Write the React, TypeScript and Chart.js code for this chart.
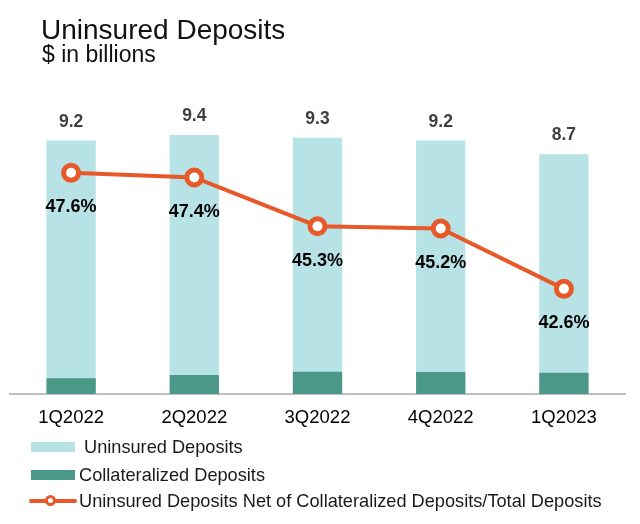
import React, { useEffect, useRef } from "react";
import { Chart, registerables } from "chart.js";

Chart.register(...registerables);

const categories = ["1Q2022", "2Q2022", "3Q2022", "4Q2022", "1Q2023"];
const uninsuredDeposits = [9.2, 9.4, 9.3, 9.2, 8.7];
const collateralizedDeposits = [0.57, 0.69, 0.81, 0.8, 0.77];
const netRatioPct = [47.6, 47.4, 45.3, 45.2, 42.6];
const totalLabels = ["9.2", "9.4", "9.3", "9.2", "8.7"];
const pctLabels = ["47.6%", "47.4%", "45.3%", "45.2%", "42.6%"];

const LIGHT = "#B7E3E6";
const DARK = "#4C9888";
const ORANGE = "#E8592A";
const FONT = "'Liberation Sans', Arial, Helvetica, sans-serif";

const labelsPlugin = {
  id: "valueLabels",
  afterDatasetsDraw(chart: any) {
    const ctx = chart.ctx;
    const barMeta = chart.getDatasetMeta(2);
    const lineMeta = chart.getDatasetMeta(0);
    ctx.save();
    ctx.textAlign = "center";
    ctx.font = `bold 17.5px ${FONT}`;
    ctx.fillStyle = "#3F3F3F";
    ctx.textBaseline = "alphabetic";
    barMeta.data.forEach((el: any, i: number) => {
      ctx.fillText(totalLabels[i], el.x, el.y - 14);
    });
    ctx.font = `bold 18px ${FONT}`;
    ctx.fillStyle = "#000000";
    lineMeta.data.forEach((el: any, i: number) => {
      ctx.fillText(pctLabels[i], el.x, el.y + 39.5);
    });
    ctx.restore();
  },
};

export default function App() {
  const ref = useRef<HTMLCanvasElement | null>(null);

  useEffect(() => {
    if (!ref.current) return;
    const chart = new Chart(ref.current, {
      type: "bar",
      data: {
        labels: categories,
        datasets: [
          {
            type: "line",
            label: "Uninsured Deposits Net of Collateralized Deposits/Total Deposits",
            data: netRatioPct,
            yAxisID: "y2",
            borderColor: ORANGE,
            borderWidth: 4,
            pointRadius: 7.5,
            pointBorderWidth: 5,
            pointBackgroundColor: "#FFFFFF",
            pointBorderColor: ORANGE,
            tension: 0,
            order: 0,
          } as any,
          {
            label: "Collateralized Deposits",
            data: collateralizedDeposits,
            backgroundColor: DARK,
            yAxisID: "y",
            grouped: false,
            barPercentage: 0.4,
            categoryPercentage: 1,
            order: 1,
          },
          {
            label: "Uninsured Deposits",
            data: uninsuredDeposits,
            backgroundColor: LIGHT,
            yAxisID: "y",
            grouped: false,
            barPercentage: 0.4,
            categoryPercentage: 1,
            order: 2,
          },
        ],
      },
      options: {
        animation: false,
        responsive: false,
        maintainAspectRatio: false,
        layout: { autoPadding: false, padding: { left: 9.5, right: 14.5, top: 80, bottom: 0 } },
        plugins: {
          legend: { display: false },
          tooltip: { enabled: false },
          title: { display: false },
        },
        scales: {
          x: {
            grid: { display: false, drawTicks: false },
            border: { display: true, color: "#BFBFBF", width: 2 },
            ticks: {
              color: "#000000",
              font: { family: FONT, size: 18.5 },
              padding: 13,
              maxRotation: 0,
            },
            afterFit: (scale: any) => {
              scale.height = 130;
            },
          },
          y: {
            display: false,
            min: 0,
            max: 11.4,
          },
          y2: {
            display: false,
            position: "right",
            min: 38.07,
            max: 51.6,
          },
        },
      },
      plugins: [labelsPlugin],
    } as any);
    return () => chart.destroy();
  }, []);

  const textBase: React.CSSProperties = {
    position: "absolute",
    fontFamily: FONT,
    whiteSpace: "nowrap",
    margin: 0,
  };

  return (
    <div style={{ position: "absolute", left: 0, top: 0, width: 640, height: 524, background: "#FFFFFF" }}>
      <canvas ref={ref} width={640} height={524} style={{ position: "absolute", left: 0, top: 0 }} />
      <div style={{ ...textBase, left: 41, top: 15.6, fontSize: 28, lineHeight: "28px", color: "#111111" }}>
        Uninsured Deposits
      </div>
      <div style={{ ...textBase, left: 42, top: 43.2, fontSize: 23, lineHeight: "23px", color: "#111111" }}>
        $ in billions
      </div>
      <div style={{ position: "absolute", left: 31, top: 442, width: 44, height: 10, background: LIGHT }} />
      <div style={{ ...textBase, left: 84, top: 438, fontSize: 18.2, lineHeight: "18px", color: "#1A1A1A" }}>
        Uninsured Deposits
      </div>
      <div style={{ position: "absolute", left: 31, top: 470, width: 44, height: 9.5, background: DARK }} />
      <div style={{ ...textBase, left: 79, top: 465.5, fontSize: 18.2, lineHeight: "18px", color: "#1A1A1A" }}>
        Collateralized Deposits
      </div>
      <div style={{ position: "absolute", left: 29, top: 499, width: 48, height: 4, background: ORANGE, borderRadius: 2 }} />
      <div
        style={{
          position: "absolute",
          left: 45,
          top: 495,
          width: 5,
          height: 5,
          borderRadius: "50%",
          background: "#FFFFFF",
          border: `3.5px solid ${ORANGE}`,
        }}
      />
      <div style={{ ...textBase, left: 79, top: 492, fontSize: 18.2, lineHeight: "18px", color: "#1A1A1A" }}>
        Uninsured Deposits Net of Collateralized Deposits/Total Deposits
      </div>
    </div>
  );
}
